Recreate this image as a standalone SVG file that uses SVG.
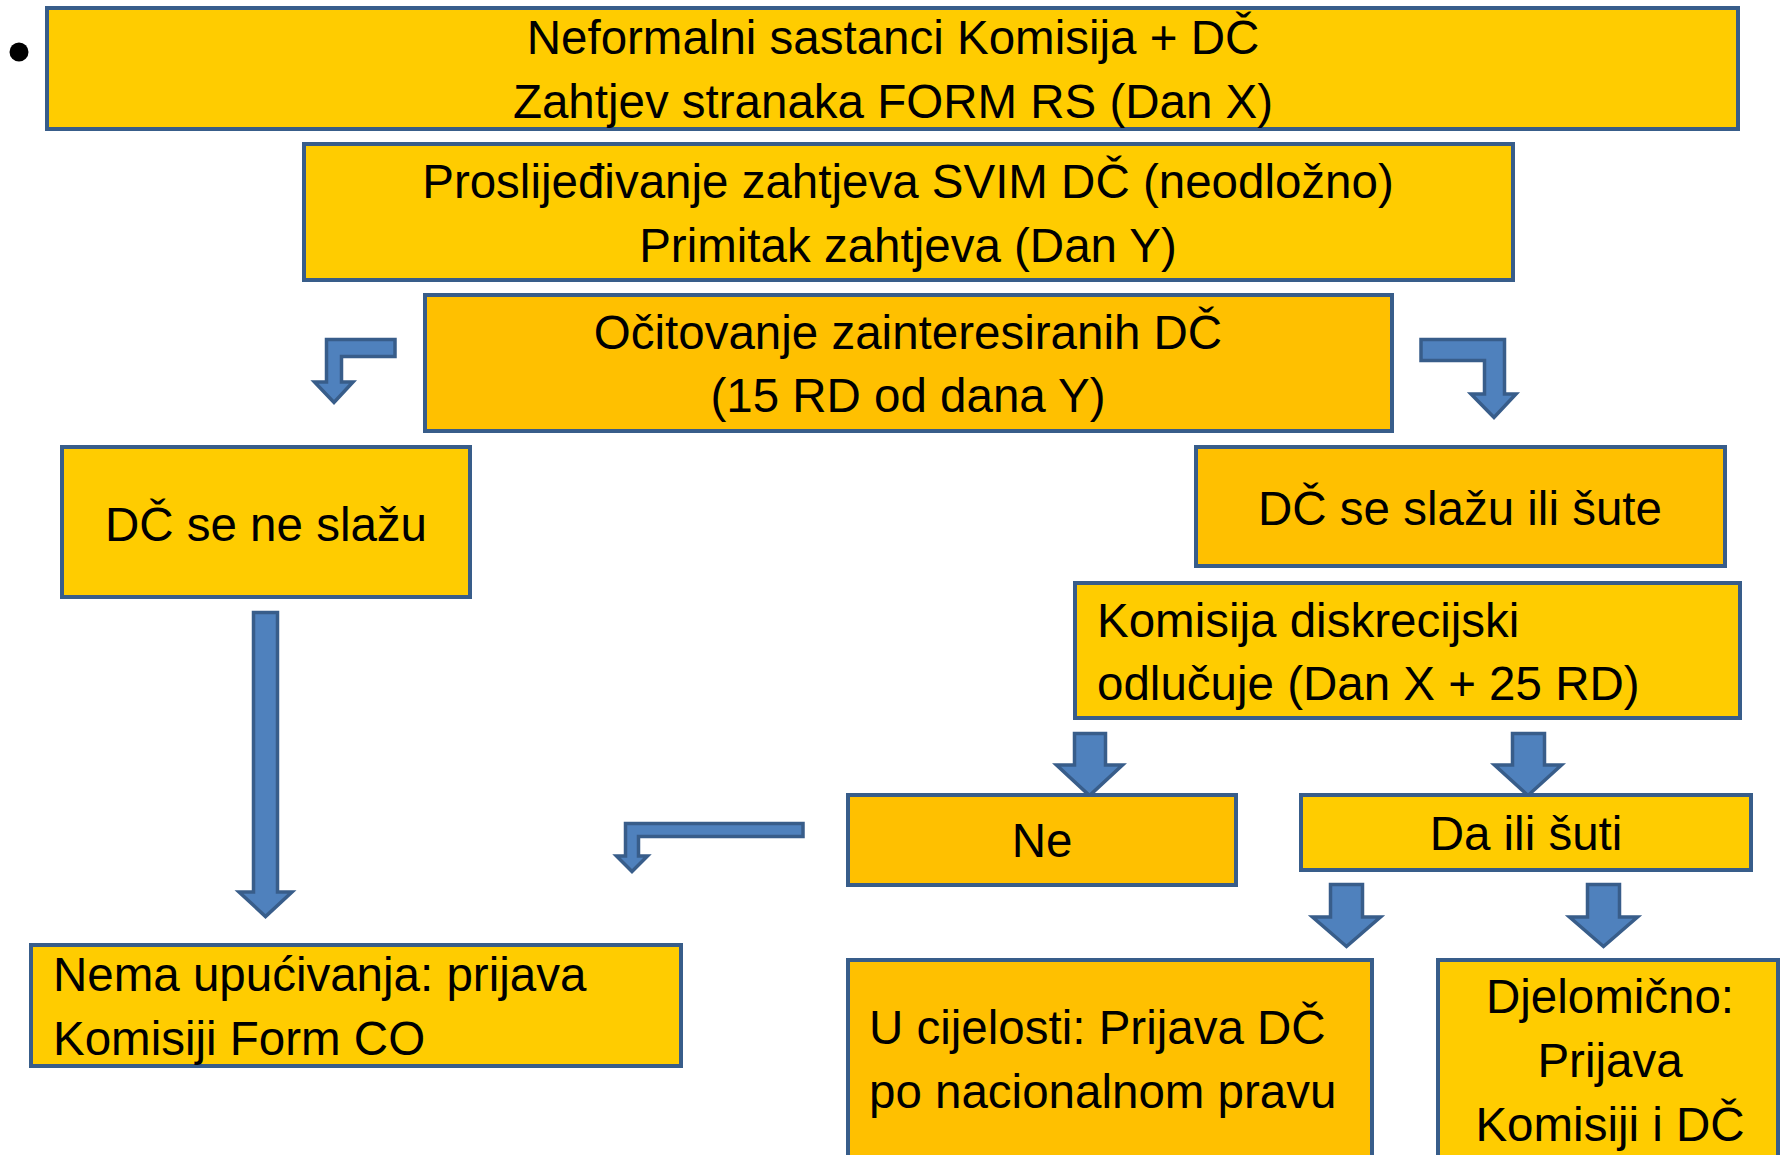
<svg xmlns="http://www.w3.org/2000/svg" width="1782" height="1155" viewBox="0 0 1782 1155">
<style>
.box{stroke:#385D8A;stroke-width:4}
.l{fill:#FFCC00}
.d{fill:#FFC000}
.arr{fill:#4F81BD;stroke:#385D8A;stroke-width:3.5;stroke-linejoin:miter}
text{font-family:"Liberation Sans",Arial,sans-serif;font-size:47.5px;fill:#000}
.c{text-anchor:middle}
</style>
<rect width="1782" height="1155" fill="#FFFFFF"/>
<circle cx="19" cy="52" r="9.5" fill="#000"/>
<g id="connectors">
<path class="arr" d="M395,339.5 H326.5 V382 H314.5 L334,402.5 L353,382 H341.5 V356.5 H395 Z"/>
<path class="arr" d="M1421,339.5 H1504.5 V394 H1516 L1494,417.5 L1471,394 H1484.5 V360.5 H1421 Z"/>
<path class="arr" d="M803,823.5 H625.5 V856 H616.5 L632,871.5 L647.5,856 H638.5 V836.5 H803 Z"/>
<path class="arr" d="M253.5,612.5 H277.5 V892 H292 L265.5,916.5 L239,892 H253.5 Z"/>
<path class="arr" d="M1074.5,733.5 H1105.5 V765 H1122.5 L1089.5,795.5 L1056.5,765 H1074.5 Z"/>
<path class="arr" d="M1512.5,733.5 H1544.5 V765 H1561.5 L1528,795.5 L1494.5,765 H1512.5 Z"/>
<path class="arr" d="M1330.5,884.5 H1362.5 V917 H1380.5 L1346.5,946.5 L1312.5,917 H1330.5 Z"/>
<path class="arr" d="M1587.5,884.5 H1619.5 V917 H1637.5 L1603.5,946.5 L1569.5,917 H1587.5 Z"/>
</g>
<g id="n1"><rect class="box l" x="47" y="8" width="1691" height="121"/>
<text class="c" x="893" y="54">Neformalni sastanci Komisija + DČ</text>
<text class="c" x="893" y="118">Zahtjev stranaka FORM RS (Dan X)</text></g>
<g id="n2"><rect class="box l" x="304" y="144" width="1209" height="136"/>
<text class="c" x="908" y="198">Proslijeđivanje zahtjeva SVIM DČ (neodložno)</text>
<text class="c" x="908" y="262">Primitak zahtjeva (Dan Y)</text></g>
<g id="n3"><rect class="box d" x="425" y="295" width="967" height="136"/>
<text class="c" x="908" y="349">Očitovanje zainteresiranih DČ</text>
<text class="c" x="908" y="412">(15 RD od dana Y)</text></g>
<g id="n4"><rect class="box l" x="62" y="447" width="408" height="150"/>
<text class="c" x="266" y="541">DČ se ne slažu</text></g>
<g id="n5"><rect class="box d" x="1196" y="447" width="529" height="119"/>
<text class="c" x="1460" y="525">DČ se slažu ili šute</text></g>
<g id="n6"><rect class="box l" x="1075" y="583" width="665" height="135"/>
<text x="1097" y="637">Komisija diskrecijski</text>
<text x="1097" y="700">odlučuje (Dan X + 25 RD)</text></g>
<g id="n7"><rect class="box d" x="848" y="795" width="388" height="90"/>
<text class="c" x="1042" y="857">Ne</text></g>
<g id="n8"><rect class="box l" x="1301" y="795" width="450" height="75"/>
<text class="c" x="1526" y="850">Da ili šuti</text></g>
<g id="n9"><rect class="box l" x="31" y="945" width="650" height="121"/>
<text x="53" y="991">Nema upućivanja: prijava</text>
<text x="53" y="1055">Komisiji Form CO</text></g>
<g id="n10"><rect class="box d" x="848" y="960" width="524" height="230"/>
<text x="869" y="1044">U cijelosti: Prijava DČ</text>
<text x="869" y="1108">po nacionalnom pravu</text></g>
<g id="n11"><rect class="box l" x="1438" y="960" width="340" height="230"/>
<text class="c" x="1610" y="1013">Djelomično:</text>
<text class="c" x="1610" y="1077">Prijava</text>
<text class="c" x="1610" y="1141">Komisiji i DČ</text></g>
</svg>
